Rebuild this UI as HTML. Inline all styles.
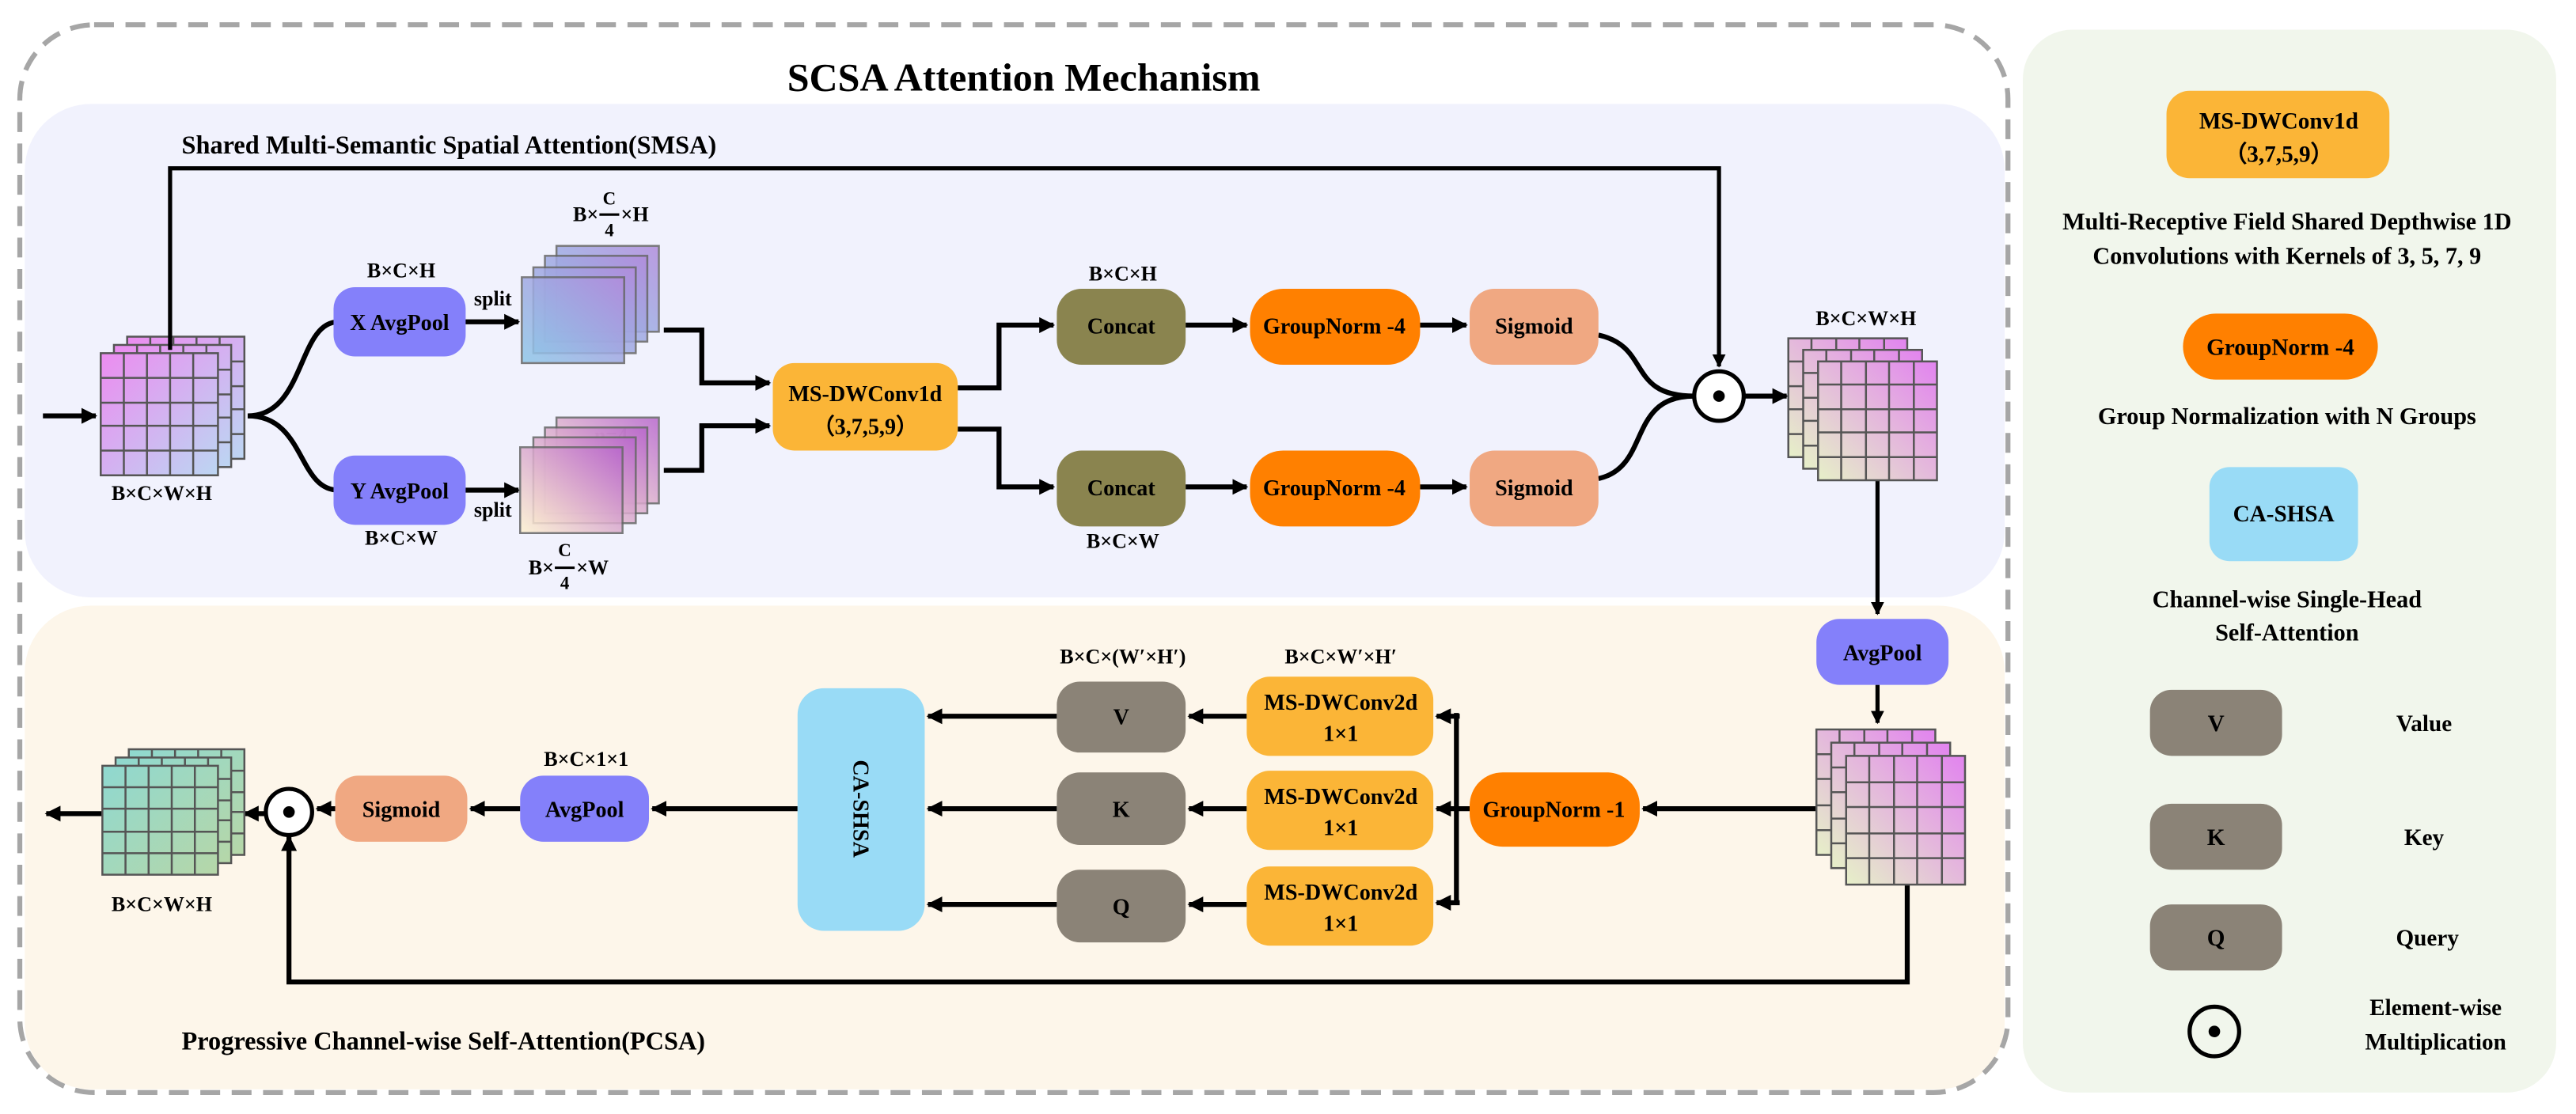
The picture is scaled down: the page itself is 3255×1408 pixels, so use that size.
<!DOCTYPE html>
<html><head><meta charset="utf-8"><style>
html,body{margin:0;padding:0;background:#fff;}
svg{display:block;}
text{font-family:"Liberation Serif",serif;font-weight:bold;fill:#000;}
</style></head><body>
<svg width="3255" height="1408" viewBox="0 0 1560 675" preserveAspectRatio="none" xmlns="http://www.w3.org/2000/svg">
<defs>
<marker id="ar" viewBox="0 0 10 10" refX="9" refY="5" markerWidth="3.2" markerHeight="3.2" orient="auto" markerUnits="strokeWidth"><path d="M0,0 L10,5 L0,10 z" fill="#000"/></marker>
<linearGradient id="gIn" x1="0" y1="0" x2="1" y2="1"><stop offset="0" stop-color="#ec8cf0"/><stop offset="1" stop-color="#bcd6f2"/></linearGradient>
<linearGradient id="gR" x1="0" y1="1" x2="1" y2="0"><stop offset="0" stop-color="#e6f0c8"/><stop offset="1" stop-color="#e283ef"/></linearGradient>
<linearGradient id="gOut" x1="0" y1="0" x2="1" y2="1"><stop offset="0" stop-color="#8fd8d0"/><stop offset="1" stop-color="#b6d7a8"/></linearGradient>
<linearGradient id="gS1" x1="0" y1="1" x2="1" y2="0"><stop offset="0" stop-color="#8ec8e8"/><stop offset="1" stop-color="#b18cdc"/></linearGradient>
<linearGradient id="gS2" x1="0" y1="1" x2="1" y2="0"><stop offset="0" stop-color="#fff3cf"/><stop offset="1" stop-color="#b866cc"/></linearGradient>
</defs>

<rect x="1225" y="18" width="323" height="644" rx="30" fill="#f1f6ec"/>
<rect x="15" y="63" width="1199" height="299" rx="40" fill="#f1f2fd"/>
<rect x="15" y="367" width="1199" height="293" rx="40" fill="#fdf6ea"/>
<rect x="12" y="15" width="1204" height="647" rx="45" fill="none" stroke="#a6a6a6" stroke-width="3" stroke-dasharray="12,7"/>

<text x="620" y="55" font-size="24" text-anchor="middle">SCSA Attention Mechanism</text>
<text x="110" y="93" font-size="15.5">Shared Multi-Semantic Spatial Attention(SMSA)</text>
<text x="110" y="636" font-size="15.5">Progressive Channel-wise Self-Attention(PCSA)</text>

<g stroke="#555" stroke-width="1.2">
<rect x="77" y="204" width="71" height="74" fill="url(#gIn)"/>
<path d="M91,204V278M105,204V278M119,204V278M133,204V278M77,219H148M77,234H148M77,248H148M77,263H148" fill="none"/>
<rect x="69" y="209" width="71" height="74" fill="url(#gIn)"/>
<path d="M83,209V283M97,209V283M111,209V283M125,209V283M69,224H140M69,239H140M69,253H140M69,268H140" fill="none"/>
<rect x="61" y="214" width="71" height="74" fill="url(#gIn)"/>
<path d="M75,214V288M89,214V288M103,214V288M117,214V288M61,229H132M61,244H132M61,258H132M61,273H132" fill="none"/>
</g>
<text x="98" y="303" font-size="12.5" text-anchor="middle">B×C×W×H</text>

<g stroke="#000" stroke-width="3" fill="none">
<path d="M26,252H58" marker-end="url(#ar)"/>
<path d="M103,212V102H1041V222" stroke-width="2.5" marker-end="url(#ar)"/>
<path d="M150,252C185,252 180,195 205,195"/>
<path d="M150,252C185,252 180,297 205,297"/>
<path d="M281,195H314" marker-end="url(#ar)"/>
<path d="M281,297H314" marker-end="url(#ar)"/>
<path d="M402,200H425V232H466" marker-end="url(#ar)"/>
<path d="M402,285H425V258H466" marker-end="url(#ar)"/>
<path d="M580,235H605V197H638" marker-end="url(#ar)"/>
<path d="M580,260H605V295H638" marker-end="url(#ar)"/>
<path d="M718,197H755" marker-end="url(#ar)"/>
<path d="M718,295H755" marker-end="url(#ar)"/>
<path d="M860,197H888" marker-end="url(#ar)"/>
<path d="M860,295H888" marker-end="url(#ar)"/>
<path d="M968,203C1000,210 985,240 1026,240"/>
<path d="M968,290C1000,283 985,240 1026,240"/>
<path d="M1056,240H1082" marker-end="url(#ar)"/>
<path d="M1137,291V372" stroke-width="2.5" marker-end="url(#ar)"/>
<path d="M1137,415V438" stroke-width="2.5" marker-end="url(#ar)"/>
<path d="M1100,490H995" marker-end="url(#ar)"/>
<path d="M890,490H870" marker-end="url(#ar)"/>
<path d="M882,432V548"/>
<path d="M884,434H870" marker-end="url(#ar)"/>
<path d="M884,547H870" marker-end="url(#ar)"/>
<path d="M755,434H720" marker-end="url(#ar)"/>
<path d="M755,490H720" marker-end="url(#ar)"/>
<path d="M755,548H720" marker-end="url(#ar)"/>
<path d="M640,434H562" marker-end="url(#ar)"/>
<path d="M640,490H562" marker-end="url(#ar)"/>
<path d="M640,548H562" marker-end="url(#ar)"/>
<path d="M483,490H395" marker-end="url(#ar)"/>
<path d="M315,490H285" marker-end="url(#ar)"/>
<path d="M203,490H192" marker-end="url(#ar)"/>
<path d="M161,493H148" marker-end="url(#ar)"/>
<path d="M62,493H28" marker-end="url(#ar)"/>
<path d="M1155,536V595H175V507" marker-end="url(#ar)"/>
</g>

<rect x="202" y="174" width="80" height="42" rx="13" fill="#8480fa"/>
<text x="242" y="200" font-size="13.5" text-anchor="middle">X AvgPool</text>
<text x="243" y="168" font-size="12.5" text-anchor="middle">B×C×H</text>
<rect x="202" y="276" width="80" height="42" rx="13" fill="#8480fa"/>
<text x="242" y="302" font-size="13.5" text-anchor="middle">Y AvgPool</text>
<text x="243" y="330" font-size="12.5" text-anchor="middle">B×C×W</text>
<text x="287" y="185" font-size="12.5">split</text>
<text x="287" y="313" font-size="12.5">split</text>
<text x="370" y="268" font-size="12.5" text-anchor="middle">n=4</text>

<g stroke="#666" stroke-width="1.2">
<rect x="337" y="149" width="62" height="52" fill="url(#gS1)" opacity="0.85"/>
<rect x="330" y="155" width="62" height="52" fill="url(#gS1)" opacity="0.85"/>
<rect x="323" y="162" width="62" height="52" fill="url(#gS1)" opacity="0.85"/>
<rect x="316" y="168" width="62" height="52" fill="url(#gS1)" opacity="0.85"/>
<rect x="337" y="253" width="62" height="52" fill="url(#gS2)" opacity="0.85"/>
<rect x="330" y="259" width="62" height="52" fill="url(#gS2)" opacity="0.85"/>
<rect x="323" y="265" width="62" height="52" fill="url(#gS2)" opacity="0.85"/>
<rect x="315" y="271" width="62" height="52" fill="url(#gS2)" opacity="0.85"/>
</g>
<g font-size="12.5">
<text x="347" y="134">B×</text><text x="376" y="134">×H</text>
<line x1="363" y1="130" x2="375" y2="130" stroke="#000" stroke-width="1.5"/>
<text x="369" y="124" text-anchor="middle" font-family="Liberation Sans,sans-serif" font-size="11">C</text>
<text x="369" y="143" text-anchor="middle" font-family="Liberation Sans,sans-serif" font-size="11">4</text>
<text x="320" y="348">B×</text><text x="349" y="348">×W</text>
<line x1="336" y1="344" x2="348" y2="344" stroke="#000" stroke-width="1.5"/>
<text x="342" y="337" text-anchor="middle" font-family="Liberation Sans,sans-serif" font-size="11">C</text>
<text x="342" y="357" text-anchor="middle" font-family="Liberation Sans,sans-serif" font-size="11">4</text>
</g>

<rect x="468" y="220" width="112" height="53" rx="13" fill="#fbb537"/>
<text x="524" y="243" font-size="13.5" text-anchor="middle">MS-DWConv1d</text>
<text x="524" y="263" font-size="13.5" text-anchor="middle">（3,7,5,9）</text>

<rect x="640" y="175" width="78" height="46" rx="15" fill="#8a844f"/>
<text x="679" y="202" font-size="13.5" text-anchor="middle">Concat</text>
<text x="680" y="170" font-size="12.5" text-anchor="middle">B×C×H</text>
<rect x="640" y="273" width="78" height="46" rx="15" fill="#8a844f"/>
<text x="679" y="300" font-size="13.5" text-anchor="middle">Concat</text>
<text x="680" y="332" font-size="12.5" text-anchor="middle">B×C×W</text>
<rect x="757" y="175" width="103" height="46" rx="20" fill="#ff8000"/>
<text x="808" y="202" font-size="13.5" text-anchor="middle">GroupNorm -4</text>
<rect x="757" y="273" width="103" height="46" rx="20" fill="#ff8000"/>
<text x="808" y="300" font-size="13.5" text-anchor="middle">GroupNorm -4</text>
<rect x="890" y="175" width="78" height="46" rx="15" fill="#f0a882"/>
<text x="929" y="202" font-size="13.5" text-anchor="middle">Sigmoid</text>
<rect x="890" y="273" width="78" height="46" rx="15" fill="#f0a882"/>
<text x="929" y="300" font-size="13.5" text-anchor="middle">Sigmoid</text>

<circle cx="1041" cy="240" r="15" fill="#fff" stroke="#000" stroke-width="2.5"/>
<circle cx="1041" cy="240" r="3.5" fill="#000"/>

<g stroke="#555" stroke-width="1.2">
<rect x="1083" y="205" width="72" height="72" fill="url(#gR)"/>
<path d="M1097,205V277M1112,205V277M1126,205V277M1141,205V277M1083,219H1155M1083,234H1155M1083,248H1155M1083,263H1155" fill="none"/>
<rect x="1092" y="212" width="72" height="72" fill="url(#gR)"/>
<path d="M1106,212V284M1121,212V284M1135,212V284M1150,212V284M1092,226H1164M1092,241H1164M1092,255H1164M1092,270H1164" fill="none"/>
<rect x="1101" y="219" width="72" height="72" fill="url(#gR)"/>
<path d="M1115,219V291M1130,219V291M1144,219V291M1159,219V291M1101,233H1173M1101,248H1173M1101,262H1173M1101,277H1173" fill="none"/>
</g>
<text x="1130" y="197" font-size="12.5" text-anchor="middle">B×C×W×H</text>

<rect x="1100" y="375" width="80" height="40" rx="14" fill="#8480fa"/>
<text x="1140" y="400" font-size="13.5" text-anchor="middle">AvgPool</text>

<g stroke="#555" stroke-width="1.2">
<rect x="1100" y="442" width="72" height="76" fill="url(#gR)"/>
<path d="M1114,442V518M1129,442V518M1143,442V518M1158,442V518M1100,457H1172M1100,472H1172M1100,488H1172M1100,503H1172" fill="none"/>
<rect x="1109" y="450" width="72" height="76" fill="url(#gR)"/>
<path d="M1123,450V526M1138,450V526M1152,450V526M1167,450V526M1109,465H1181M1109,480H1181M1109,496H1181M1109,511H1181" fill="none"/>
<rect x="1118" y="458" width="72" height="78" fill="url(#gR)"/>
<path d="M1132,458V536M1147,458V536M1161,458V536M1176,458V536M1118,474H1190M1118,489H1190M1118,505H1190M1118,520H1190" fill="none"/>
</g>

<rect x="890" y="468" width="103" height="45" rx="20" fill="#ff8000"/>
<text x="941" y="495" font-size="13.5" text-anchor="middle">GroupNorm -1</text>

<rect x="755" y="410" width="113" height="48" rx="14" fill="#fbb537"/>
<text x="812" y="430" font-size="13.5" text-anchor="middle">MS-DWConv2d</text>
<text x="812" y="449" font-size="13.5" text-anchor="middle">1×1</text>
<rect x="755" y="467" width="113" height="48" rx="14" fill="#fbb537"/>
<text x="812" y="487" font-size="13.5" text-anchor="middle">MS-DWConv2d</text>
<text x="812" y="506" font-size="13.5" text-anchor="middle">1×1</text>
<rect x="755" y="525" width="113" height="48" rx="14" fill="#fbb537"/>
<text x="812" y="545" font-size="13.5" text-anchor="middle">MS-DWConv2d</text>
<text x="812" y="564" font-size="13.5" text-anchor="middle">1×1</text>
<text x="812" y="402" font-size="12.5" text-anchor="middle">B×C×W′×H′</text>
<text x="680" y="402" font-size="12.5" text-anchor="middle">B×C×(W′×H′)</text>

<rect x="640" y="413" width="78" height="43" rx="14" fill="#8b8377"/>
<text x="679" y="439" font-size="13.5" text-anchor="middle">V</text>
<rect x="640" y="468" width="78" height="44" rx="14" fill="#8b8377"/>
<text x="679" y="495" font-size="13.5" text-anchor="middle">K</text>
<rect x="640" y="527" width="78" height="44" rx="14" fill="#8b8377"/>
<text x="679" y="554" font-size="13.5" text-anchor="middle">Q</text>

<rect x="483" y="417" width="77" height="147" rx="16" fill="#99dbf6"/>
<text x="0" y="0" font-size="13.5" text-anchor="middle" transform="translate(517,490) rotate(90)">CA-SHSA</text>

<rect x="315" y="470" width="78" height="40" rx="14" fill="#8480fa"/>
<text x="354" y="495" font-size="13.5" text-anchor="middle">AvgPool</text>
<text x="355" y="464" font-size="12.5" text-anchor="middle">B×C×1×1</text>
<rect x="203" y="470" width="80" height="40" rx="14" fill="#f0a882"/>
<text x="243" y="495" font-size="13.5" text-anchor="middle">Sigmoid</text>

<circle cx="175" cy="492" r="14" fill="#fff" stroke="#000" stroke-width="2.5"/>
<circle cx="175" cy="492" r="3.5" fill="#000"/>

<g stroke="#555" stroke-width="1.2">
<rect x="78" y="454" width="70" height="64" fill="url(#gOut)"/>
<path d="M92,454V518M106,454V518M120,454V518M134,454V518M78,467H148M78,480H148M78,492H148M78,505H148" fill="none"/>
<rect x="70" y="459" width="70" height="64" fill="url(#gOut)"/>
<path d="M84,459V523M98,459V523M112,459V523M126,459V523M70,472H140M70,485H140M70,497H140M70,510H140" fill="none"/>
<rect x="62" y="464" width="70" height="66" fill="url(#gOut)"/>
<path d="M76,464V530M90,464V530M104,464V530M118,464V530M62,477H132M62,490H132M62,504H132M62,517H132" fill="none"/>
</g>
<text x="98" y="552" font-size="12.5" text-anchor="middle">B×C×W×H</text>

<rect x="1312" y="55" width="135" height="53" rx="14" fill="#fbb537"/>
<text x="1380" y="78" font-size="14" text-anchor="middle">MS-DWConv1d</text>
<text x="1380" y="98" font-size="14" text-anchor="middle">（3,7,5,9）</text>
<text x="1385" y="139" font-size="14.5" text-anchor="middle">Multi-Receptive Field Shared Depthwise 1D</text>
<text x="1385" y="160" font-size="14.5" text-anchor="middle">Convolutions with Kernels of 3, 5, 7, 9</text>
<rect x="1322" y="190" width="118" height="40" rx="20" fill="#ff8000"/>
<text x="1381" y="215" font-size="14" text-anchor="middle">GroupNorm -4</text>
<text x="1385" y="257" font-size="14.5" text-anchor="middle">Group Normalization with N Groups</text>
<rect x="1338" y="283" width="90" height="57" rx="12" fill="#99dbf6"/>
<text x="1383" y="316" font-size="14" text-anchor="middle">CA-SHSA</text>
<text x="1385" y="368" font-size="14.5" text-anchor="middle">Channel-wise Single-Head</text>
<text x="1385" y="388" font-size="14.5" text-anchor="middle">Self-Attention</text>
<rect x="1302" y="418" width="80" height="40" rx="13" fill="#8b8377"/>
<text x="1342" y="443" font-size="14" text-anchor="middle">V</text>
<text x="1468" y="443" font-size="14" text-anchor="middle">Value</text>
<rect x="1302" y="487" width="80" height="40" rx="13" fill="#8b8377"/>
<text x="1342" y="512" font-size="14" text-anchor="middle">K</text>
<text x="1468" y="512" font-size="14" text-anchor="middle">Key</text>
<rect x="1302" y="548" width="80" height="40" rx="13" fill="#8b8377"/>
<text x="1342" y="573" font-size="14" text-anchor="middle">Q</text>
<text x="1470" y="573" font-size="14" text-anchor="middle">Query</text>
<circle cx="1341" cy="625" r="15" fill="none" stroke="#000" stroke-width="2.5"/>
<circle cx="1341" cy="625" r="3.5" fill="#000"/>
<text x="1475" y="615" font-size="14" text-anchor="middle">Element-wise</text>
<text x="1475" y="636" font-size="14" text-anchor="middle">Multiplication</text>
</svg>
</body></html>
